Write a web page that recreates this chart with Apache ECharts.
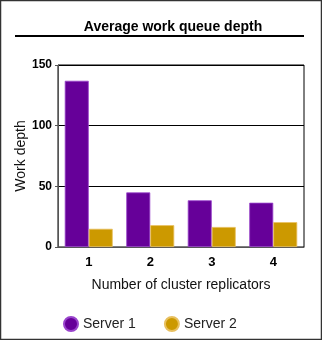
<!DOCTYPE html>
<html><head><meta charset="utf-8">
<script src="https://cdn.jsdelivr.net/npm/echarts@6/dist/echarts.min.js"></script>
<style>html,body{margin:0;padding:0;background:#fff}#c{width:322px;height:340px}</style>
</head><body><div id="c"></div>
<script>
const categories = ['1', '2', '3', '4'];
const server1 = [137, 45, 38.5, 36.5];
const server2 = [15, 18, 16.5, 20.5];
const yTicks = { min: 0, max: 150, interval: 50 };
const seriesNames = ['Server 1', 'Server 2'];

const chart = echarts.init(document.getElementById('c'), null, { renderer: 'canvas' });
const font = 'Liberation Sans, Arial, Helvetica, sans-serif';
chart.setOption({
  animation: false,
  textStyle: { fontFamily: font },
  title: {
    text: 'Average work queue depth', left: 168, top: 15, textAlign: 'center',
    textStyle: { fontSize: 14, fontWeight: 'bold', color: '#000', fontFamily: font }
  },
  graphic: [
    { type: 'rect', shape: { x: 0.5, y: 0.5, width: 321, height: 339 }, style: { fill: 'none', stroke: '#333', lineWidth: 1.5 } },
    { type: 'line', shape: { x1: 15, y1: 36, x2: 304, y2: 36 }, style: { stroke: '#000', lineWidth: 2 } }
  ],
  grid: { left: 58, right: 18, top: 65, bottom: 93, show: true, borderColor: '#000', borderWidth: 1 },
  legend: {
    data: seriesNames, top: 311, left: 58, icon: 'circle', itemWidth: 14, itemHeight: 14, itemGap: 28,
    textStyle: { fontSize: 14, color: '#222', fontFamily: font }
  },
  xAxis: {
    type: 'category', data: categories,
    name: 'Number of cluster replicators', nameLocation: 'middle', nameGap: 31,
    nameTextStyle: { fontSize: 14, color: '#111', fontFamily: font },
    axisLine: { lineStyle: { color: '#555', width: 1 } },
    axisTick: { show: false },
    axisLabel: { fontSize: 13, fontWeight: 'bold', color: '#000', margin: 9 }
  },
  yAxis: {
    type: 'value', min: yTicks.min, max: yTicks.max, interval: yTicks.interval,
    name: 'Work depth', nameLocation: 'middle', nameGap: 30, nameMoveOverlap: false,
    nameTextStyle: { fontSize: 14, color: '#111', fontFamily: font },
    axisLine: { show: true, lineStyle: { color: '#555' } },
    axisTick: { show: true, length: 3, lineStyle: { color: '#555' } },
    axisLabel: { fontSize: 12, fontWeight: 'bold', color: '#000', margin: 6 },
    splitLine: { show: true, lineStyle: { color: '#000', width: 1 } }
  },
  series: [
    { name: seriesNames[0], type: 'bar', data: server1, barGap: '0%', barCategoryGap: '22%',
      itemStyle: { color: '#660099', borderColor: '#9944cc', borderWidth: 0.8 } },
    { name: seriesNames[1], type: 'bar', data: server2, barGap: '0%', barCategoryGap: '22%',
      itemStyle: { color: '#cc9900', borderColor: '#e8c060', borderWidth: 0.8 } }
  ]
});
</script></body></html>
